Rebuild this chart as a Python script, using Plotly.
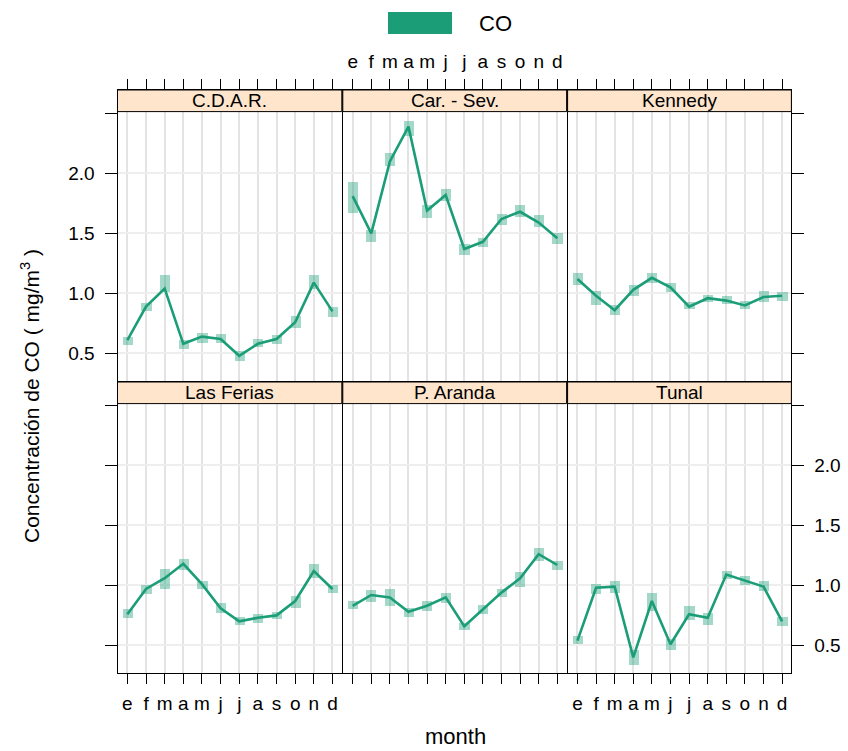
import plotly.graph_objects as go

W, H = 848, 751

month_num = list(range(1, 13))
month_lbl = ["e", "f", "m", "a", "m", "j", "j", "a", "s", "o", "n", "d"]
y_ticks = [0.5, 1.0, 1.5, 2.0]
y_tick_lbl = ["0.5", "1.0", "1.5", "2.0"]
y_edge_tick = [2.5]

sites = ["C.D.A.R.", "Car. - Sev.", "Kennedy", "Las Ferias", "P. Aranda", "Tunal"]

cdar = [0.61, 0.89, 1.04, 0.58, 0.64, 0.62, 0.48, 0.58, 0.62, 0.76, 1.09, 0.85]
cdar_lo = [0.57, 0.85, 1.01, 0.54, 0.59, 0.59, 0.44, 0.55, 0.58, 0.71, 1.04, 0.80]
cdar_hi = [0.64, 0.92, 1.15, 0.61, 0.67, 0.66, 0.52, 0.62, 0.65, 0.81, 1.15, 0.89]

carsev = [1.81, 1.50, 2.10, 2.39, 1.69, 1.82, 1.37, 1.43, 1.62, 1.68, 1.59, 1.46]
carsev_lo = [1.67, 1.43, 2.06, 2.31, 1.63, 1.77, 1.32, 1.39, 1.57, 1.64, 1.55, 1.41]
carsev_hi = [1.93, 1.53, 2.17, 2.44, 1.74, 1.87, 1.41, 1.46, 1.66, 1.74, 1.65, 1.50]

kennedy = [1.12, 0.98, 0.86, 1.03, 1.13, 1.05, 0.89, 0.96, 0.94, 0.90, 0.97, 0.98]
kennedy_lo = [1.07, 0.90, 0.82, 0.98, 1.09, 1.01, 0.87, 0.93, 0.91, 0.87, 0.93, 0.94]
kennedy_hi = [1.17, 1.02, 0.90, 1.07, 1.17, 1.09, 0.93, 0.99, 0.98, 0.94, 1.02, 1.01]

lasferias = [0.76, 0.97, 1.06, 1.18, 1.01, 0.81, 0.70, 0.73, 0.75, 0.87, 1.12, 0.97]
lasferias_lo = [0.73, 0.93, 0.97, 1.13, 0.97, 0.77, 0.67, 0.69, 0.72, 0.81, 1.06, 0.94]
lasferias_hi = [0.80, 1.00, 1.14, 1.22, 1.04, 0.85, 0.74, 0.76, 0.78, 0.91, 1.18, 1.00]

paranda = [0.83, 0.92, 0.90, 0.78, 0.83, 0.90, 0.66, 0.80, 0.94, 1.06, 1.26, 1.17]
paranda_lo = [0.80, 0.86, 0.83, 0.74, 0.79, 0.85, 0.63, 0.76, 0.90, 0.99, 1.20, 1.13]
paranda_hi = [0.87, 0.96, 0.97, 0.81, 0.87, 0.94, 0.69, 0.84, 0.97, 1.11, 1.31, 1.20]

tunal = [0.54, 0.98, 0.99, 0.40, 0.87, 0.51, 0.76, 0.73, 1.09, 1.04, 0.99, 0.70]
tunal_lo = [0.51, 0.93, 0.94, 0.34, 0.79, 0.46, 0.71, 0.67, 1.05, 1.00, 0.95, 0.66]
tunal_hi = [0.58, 1.01, 1.04, 0.46, 0.94, 0.55, 0.83, 0.77, 1.12, 1.08, 1.04, 0.74]

means = [cdar, carsev, kennedy, lasferias, paranda, tunal]
lows = [cdar_lo, carsev_lo, kennedy_lo, lasferias_lo, paranda_lo, tunal_lo]
highs = [cdar_hi, carsev_hi, kennedy_hi, lasferias_hi, paranda_hi, tunal_hi]

GREEN = "#1b9e77"
BAND = "rgba(27,158,119,0.4)"
FONT = "Liberation Sans, Arial, sans-serif"

# pixel layout of the lattice panels (axis lines sit just outside each domain)
col_edges = [(117.5, 341.8), (342.8, 566.6), (567.6, 791.4)]
row_edges = [(90.0, 381.0), (382.0, 673.0)]
y_range = [0.27, 0.27 + 291 / 120]
strip_top_val = 2.515
strip_frac = (strip_top_val - y_range[0]) / (y_range[1] - y_range[0])

fig = go.Figure()
layout = {}
shapes = []
annotations = []

for i, site in enumerate(sites):
    row, col = divmod(i, 3)
    n = "" if i == 0 else str(i + 1)
    xa, ya = "x" + n, "y" + n

    fig.add_trace(go.Bar(
        x=month_num,
        y=[h - l for h, l in zip(highs[i], lows[i])],
        base=lows[i],
        width=0.54,
        marker=dict(color=BAND, line=dict(width=0)),
        xaxis=xa, yaxis=ya, showlegend=False, hoverinfo="skip",
    ))
    fig.add_trace(go.Scatter(
        x=month_num, y=means[i], mode="lines",
        line=dict(color=GREEN, width=2.6),
        xaxis=xa, yaxis=ya, showlegend=False,
    ))

    x0, x1 = col_edges[col]
    top, bot = row_edges[row]

    if row == 0:
        x_side = "top"
        x_labels = col == 1
    else:
        x_side = "bottom"
        x_labels = col != 1

    layout["xaxis" + n] = dict(
        domain=[x0 / W, x1 / W], anchor=ya, range=[0.47, 12.5],
        side=x_side, tickvals=month_num, ticktext=month_lbl,
        ticks="outside", ticklen=10, tickcolor="black", tickwidth=1,
        ticklabelstandoff=3,
        showticklabels=x_labels, showgrid=True, gridcolor="#e3e3e3", gridwidth=1.5,
        zeroline=False, showline=True, linecolor="black", linewidth=1, mirror=True,
        tickfont=dict(family=FONT, size=19, color="black"),
    )

    if col == 0:
        y_side, y_ticks_on, y_labels = "left", "outside", row == 0
    elif col == 2:
        y_side, y_ticks_on, y_labels = "right", "outside", row == 1
    else:
        y_side, y_ticks_on, y_labels = "left", "", False

    layout["yaxis" + n] = dict(
        domain=[1 - bot / H, 1 - top / H], anchor=xa, range=y_range,
        side=y_side, tickvals=y_ticks, ticktext=y_tick_lbl,
        ticks=y_ticks_on, ticklen=12, tickcolor="black", tickwidth=1,
        ticklabelstandoff=6,
        minor=dict(tickvals=y_edge_tick, ticks=y_ticks_on, ticklen=12,
                   tickcolor="black", tickwidth=1, showgrid=False),
        showticklabels=y_labels, showgrid=True, gridcolor="#eeeeee", gridwidth=1.5,
        zeroline=False, showline=True, linecolor="black", linewidth=1, mirror=True,
        tickfont=dict(family=FONT, size=19, color="black"),
    )

    shapes.append(dict(
        type="rect", xref=xa + " domain", yref=ya + " domain",
        x0=0, x1=1, y0=strip_frac, y1=1,
        fillcolor="#FFE5CC", line=dict(color="black", width=1), layer="above",
    ))
    annotations.append(dict(
        text=site, xref=xa + " domain", yref=ya + " domain",
        x=0.5, y=(strip_frac + 1) / 2, showarrow=False,
        xanchor="center", yanchor="middle",
        font=dict(family=FONT, size=19, color="black"),
    ))

# key at the top
shapes.append(dict(
    type="rect", xref="paper", yref="paper",
    x0=388 / W, x1=452 / W, y0=1 - 34 / H, y1=1 - 12 / H,
    fillcolor=GREEN, line=dict(width=0),
))
annotations.append(dict(
    text="CO", xref="paper", yref="paper", x=477 / W, y=1 - 23 / H,
    xanchor="left", yanchor="middle", showarrow=False,
    font=dict(family=FONT, size=22, color="black"),
))
annotations.append(dict(
    text="month", xref="paper", yref="paper", x=455 / W, y=1 - 736 / H,
    xanchor="center", yanchor="middle", showarrow=False, borderpad=0,
    font=dict(family=FONT, size=22, color="black"),
))
annotations.append(dict(
    text="Concentración de CO ( mg/m<sup>3</sup> )", xref="paper", yref="paper",
    x=30 / W, y=1 - 396 / H, textangle=-90,
    xanchor="center", yanchor="middle", showarrow=False,
    font=dict(family=FONT, size=21, color="black"),
))

fig.update_layout(
    **layout,
    shapes=shapes,
    annotations=annotations,
    width=W, height=H,
    margin=dict(l=0, r=0, t=0, b=0),
    paper_bgcolor="white", plot_bgcolor="white",
    showlegend=False,
    bargap=0,
)

fig.write_html("out.html", config={"displayModeBar": False},
               post_script="document.body.style.margin='0';")
